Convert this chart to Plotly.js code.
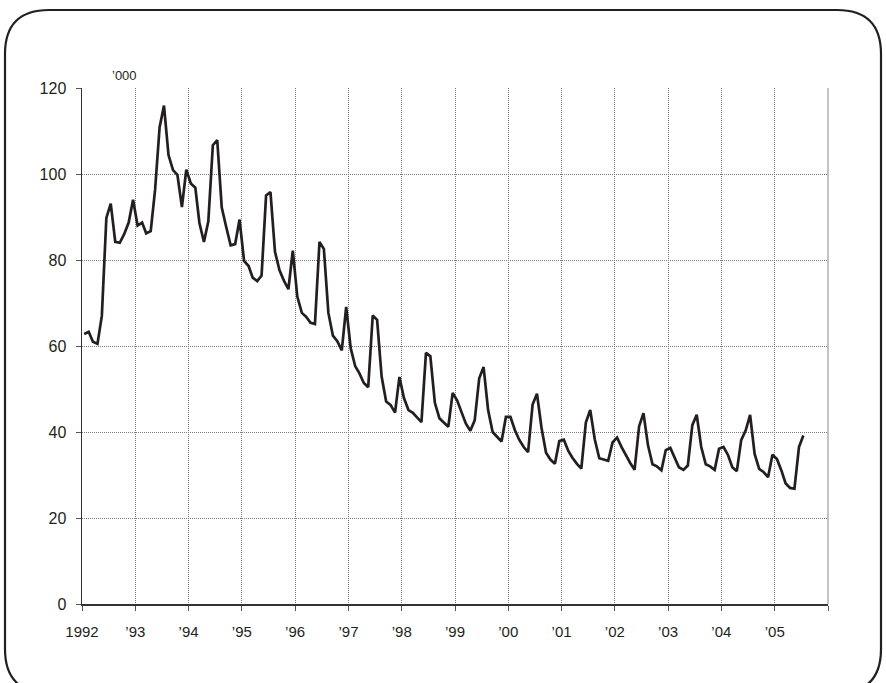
<!DOCTYPE html>
<html>
<head>
<meta charset="utf-8">
<script src="https://cdn.plot.ly/plotly-3.0.1.min.js"></script>
<style>
html,body{margin:0;padding:0;background:#fff;}
#chart{width:886px;height:683px;}
</style>
</head>
<body>
<div id="chart"></div>
<script>
// Monthly values ('000), January 1992 to July 2005
const y1992 = [62.8, 63.3, 61.0, 60.5, 67.0, 89.8, 93.1, 84.2, 84.0, 86.0, 88.7, 94.0];
const y1993 = [88.0, 88.7, 86.2, 86.7, 96.3, 110.9, 115.9, 104.4, 100.9, 99.8, 92.3, 101.0];
const y1994 = [97.8, 96.8, 88.6, 84.2, 89.0, 106.7, 107.9, 92.2, 87.6, 83.4, 83.7, 89.4];
const y1995 = [79.8, 78.6, 75.9, 75.1, 76.4, 95.0, 95.8, 81.9, 77.6, 75.2, 73.2, 82.2];
const y1996 = [71.5, 67.7, 66.8, 65.4, 65.1, 84.2, 82.6, 67.7, 62.4, 61.1, 59.0, 69.1];
const y1997 = [59.5, 55.3, 53.7, 51.4, 50.4, 67.1, 66.1, 52.9, 47.1, 46.3, 44.5, 52.8];
const y1998 = [47.9, 45.1, 44.5, 43.4, 42.3, 58.4, 57.6, 46.8, 43.2, 42.2, 41.2, 49.1];
const y1999 = [47.3, 44.5, 42.0, 40.3, 42.7, 52.5, 55.1, 45.1, 40.0, 38.9, 37.8, 43.5];
const y2000 = [43.5, 40.4, 38.2, 36.5, 35.3, 46.4, 48.9, 41.0, 35.2, 33.6, 32.6, 37.9];
const y2001 = [38.2, 35.6, 34.0, 32.6, 31.5, 42.2, 45.1, 38.3, 33.9, 33.6, 33.3, 37.6];
const y2002 = [38.7, 36.5, 34.6, 32.8, 31.2, 41.3, 44.4, 36.9, 32.5, 32.0, 31.1, 35.8];
const y2003 = [36.3, 33.8, 31.8, 31.2, 32.2, 41.6, 44.0, 36.5, 32.5, 32.0, 31.2, 36.1];
const y2004 = [36.5, 34.6, 31.8, 30.9, 38.1, 40.4, 44.0, 34.9, 31.4, 30.7, 29.5, 34.7];
const y2005 = [33.7, 31.0, 28.1, 27.0, 26.8, 36.5, 39.2];

const years = [1992,1993,1994,1995,1996,1997,1998,1999,2000,2001,2002,2003,2004,2005];
const seriesByYear = [y1992,y1993,y1994,y1995,y1996,y1997,y1998,y1999,y2000,y2001,y2002,y2003,y2004,y2005];

const tickYears = [1992,1993,1994,1995,1996,1997,1998,1999,2000,2001,2002,2003,2004,2005,2006];
const tickLabels = ['1992','\u201993','\u201994','\u201995','\u201996','\u201997','\u201998','\u201999','\u201900','\u201901','\u201902','\u201903','\u201904','\u201905',''];
const yTicks = [0,20,40,60,80,100,120];
const unitLabel = '\u2019000';

// build month dates (mid-month)
const xs = [], ys = [];
seriesByYear.forEach((arr, k) => {
  arr.forEach((v, m) => {
    const mm = String(m+1).padStart(2,'0');
    xs.push(years[k] + '-' + mm + '-16');
    ys.push(v);
  });
});

const W = 886, H = 683;
const L = 82, R = 828, T = 88, B = 604;
const px = x => (x - L) / (R - L);
const py = y => (B - y) / (B - T);

// rounded frame
const fx0 = 5, fx1 = 881, fy0 = 10, fy1 = 693, rad = 44;
const framePath = `M ${px(fx0+rad)},${py(fy0)} L ${px(fx1-rad)},${py(fy0)} Q ${px(fx1)},${py(fy0)} ${px(fx1)},${py(fy0+rad)} L ${px(fx1)},${py(fy1-rad)} Q ${px(fx1)},${py(fy1)} ${px(fx1-rad)},${py(fy1)} L ${px(fx0+rad)},${py(fy1)} Q ${px(fx0)},${py(fy1)} ${px(fx0)},${py(fy1-rad)} L ${px(fx0)},${py(fy0+rad)} Q ${px(fx0)},${py(fy0)} ${px(fx0+rad)},${py(fy0)} Z`;

const trace = {
  x: xs, y: ys, type: 'scatter', mode: 'lines',
  line: {color: '#231f20', width: 2.7},
  hoverinfo: 'skip'
};

const fontFam = 'Liberation Sans, Arial, sans-serif';
const layout = {
  width: W, height: H,
  margin: {l: L, r: W - R, t: T, b: H - B, pad: 0},
  paper_bgcolor: '#ffffff', plot_bgcolor: '#ffffff',
  showlegend: false,
  font: {family: fontFam, size: 15, color: '#231f20'},
  xaxis: {
    type: 'date',
    range: ['1992-01-01', '2006-01-01'],
    tickmode: 'array',
    tickvals: tickYears.map(y => y + '-01-01'),
    ticktext: tickLabels,
    showgrid: true, gridcolor: '#7a7a7a', griddash: '1px,1px', gridwidth: 1,
    showline: true, linecolor: '#333', linewidth: 1.5,
    ticks: 'outside', ticklen: 5, tickcolor: '#555', tickwidth: 1,
    ticklabelstandoff: 8,
    zeroline: false,
    tickfont: {size: 15, color: '#231f20'}
  },
  yaxis: {
    range: [0, 120],
    tickmode: 'array', tickvals: yTicks,
    showgrid: true, gridcolor: '#7a7a7a', griddash: '1px,1px', gridwidth: 1,
    showline: true, linecolor: '#333', linewidth: 1.5,
    ticks: 'outside', ticklen: 5, tickcolor: '#555', tickwidth: 1,
    ticklabelstandoff: 6,
    zeroline: false,
    tickfont: {size: 16, color: '#231f20'}
  },
  shapes: [
    {type: 'path', xref: 'paper', yref: 'paper', path: framePath,
     line: {color: '#231f20', width: 2.2}, fillcolor: 'rgba(0,0,0,0)', layer: 'below'},
    {type: 'line', xref: 'paper', yref: 'paper', x0: 1, x1: 1, y0: 0, y1: 1,
     line: {color: '#999', width: 1.2}}
  ],
  annotations: [
    {xref: 'paper', yref: 'paper', x: px(110), y: py(76), text: unitLabel,
     showarrow: false, xanchor: 'left', yanchor: 'middle',
     font: {size: 13, color: '#231f20'}}
  ]
};

Plotly.newPlot('chart', [trace], layout, {staticPlot: true, displayModeBar: false});
</script>
</body>
</html>
